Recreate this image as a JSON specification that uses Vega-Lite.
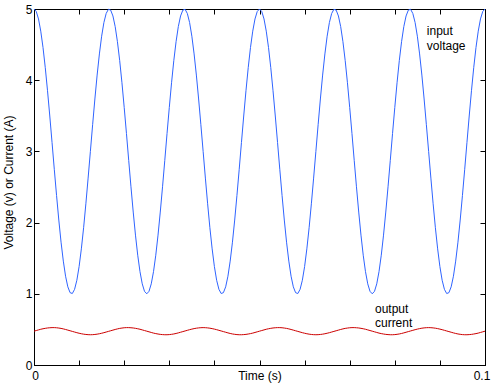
{
"$schema": "https://vega.github.io/schema/vega-lite/v6.json",
"width": 451, "height": 356,
"autosize": {"type": "none"},
"padding": {"left": 34, "top": 9, "right": 18, "bottom": 20},
"background": "white",
"config": {
  "view": {"stroke": "black", "strokeWidth": 1},
  "axis": {"labelFont": "Liberation Sans", "labelFontSize": 12, "labelColor": "black", "titleFont": "Liberation Sans", "titleFontSize": 12, "titleFontWeight": "normal", "titleColor": "black", "tickColor": "black", "domainColor": "black", "grid": false, "labelFlush": false},
  "text": {"font": "Liberation Sans", "fontSize": 12}
},
"datasets": {
"sig": [
{"t":0,"v":5,"i":0.475},{"t":0.0005,"v":4.965,"i":0.484},{"t":0.001,"v":4.860,"i":0.493},{"t":0.0015,"v":4.689,"i":0.502},{"t":0.002,"v":4.458,"i":0.509},{"t":0.0025,"v":4.176,"i":0.515},{"t":0.003,"v":3.852,"i":0.520},{"t":0.0035,"v":3.497,"i":0.523},{"t":0.004,"v":3.126,"i":0.525},{"t":0.0045,"v":2.749,"i":0.525},
{"t":0.005,"v":2.382,"i":0.523},{"t":0.0055,"v":2.036,"i":0.519},{"t":0.006,"v":1.725,"i":0.514},{"t":0.0065,"v":1.459,"i":0.507},{"t":0.007,"v":1.247,"i":0.499},{"t":0.0075,"v":1.098,"i":0.490},{"t":0.008,"v":1.016,"i":0.481},{"t":0.0085,"v":1.004,"i":0.472},{"t":0.009,"v":1.063,"i":0.463},{"t":0.0095,"v":1.190,"i":0.454},
{"t":0.01,"v":1.382,"i":0.446},{"t":0.0105,"v":1.631,"i":0.439},{"t":0.011,"v":1.928,"i":0.433},{"t":0.0115,"v":2.264,"i":0.429},{"t":0.012,"v":2.625,"i":0.426},{"t":0.0125,"v":3.000,"i":0.425},{"t":0.013,"v":3.375,"i":0.426},{"t":0.0135,"v":3.736,"i":0.429},{"t":0.014,"v":4.072,"i":0.433},{"t":0.0145,"v":4.369,"i":0.439},
{"t":0.015,"v":4.618,"i":0.446},{"t":0.0155,"v":4.810,"i":0.454},{"t":0.016,"v":4.937,"i":0.463},{"t":0.0165,"v":4.996,"i":0.472},{"t":0.017,"v":4.984,"i":0.481},{"t":0.0175,"v":4.902,"i":0.490},{"t":0.018,"v":4.753,"i":0.499},{"t":0.0185,"v":4.541,"i":0.507},{"t":0.019,"v":4.275,"i":0.514},{"t":0.0195,"v":3.964,"i":0.519},
{"t":0.02,"v":3.618,"i":0.523},{"t":0.0205,"v":3.251,"i":0.525},{"t":0.021,"v":2.874,"i":0.525},{"t":0.0215,"v":2.503,"i":0.523},{"t":0.022,"v":2.148,"i":0.520},{"t":0.0225,"v":1.824,"i":0.515},{"t":0.023,"v":1.542,"i":0.509},{"t":0.0235,"v":1.311,"i":0.502},{"t":0.024,"v":1.140,"i":0.493},{"t":0.0245,"v":1.035,"i":0.484},
{"t":0.025,"v":1.000,"i":0.475},{"t":0.0255,"v":1.035,"i":0.466},{"t":0.026,"v":1.140,"i":0.457},{"t":0.0265,"v":1.311,"i":0.448},{"t":0.027,"v":1.542,"i":0.441},{"t":0.0275,"v":1.824,"i":0.435},{"t":0.028,"v":2.148,"i":0.430},{"t":0.0285,"v":2.503,"i":0.427},{"t":0.029,"v":2.874,"i":0.425},{"t":0.0295,"v":3.251,"i":0.425},
{"t":0.03,"v":3.618,"i":0.427},{"t":0.0305,"v":3.964,"i":0.431},{"t":0.031,"v":4.275,"i":0.436},{"t":0.0315,"v":4.541,"i":0.443},{"t":0.032,"v":4.753,"i":0.451},{"t":0.0325,"v":4.902,"i":0.460},{"t":0.033,"v":4.984,"i":0.469},{"t":0.0335,"v":4.996,"i":0.478},{"t":0.034,"v":4.937,"i":0.487},{"t":0.0345,"v":4.810,"i":0.496},
{"t":0.035,"v":4.618,"i":0.504},{"t":0.0355,"v":4.369,"i":0.511},{"t":0.036,"v":4.072,"i":0.517},{"t":0.0365,"v":3.736,"i":0.521},{"t":0.037,"v":3.375,"i":0.524},{"t":0.0375,"v":3.000,"i":0.525},{"t":0.038,"v":2.625,"i":0.524},{"t":0.0385,"v":2.264,"i":0.521},{"t":0.039,"v":1.928,"i":0.517},{"t":0.0395,"v":1.631,"i":0.511},
{"t":0.04,"v":1.382,"i":0.504},{"t":0.0405,"v":1.190,"i":0.496},{"t":0.041,"v":1.063,"i":0.487},{"t":0.0415,"v":1.004,"i":0.478},{"t":0.042,"v":1.016,"i":0.469},{"t":0.0425,"v":1.098,"i":0.460},{"t":0.043,"v":1.247,"i":0.451},{"t":0.0435,"v":1.459,"i":0.443},{"t":0.044,"v":1.725,"i":0.436},{"t":0.0445,"v":2.036,"i":0.431},
{"t":0.045,"v":2.382,"i":0.427},{"t":0.0455,"v":2.749,"i":0.425},{"t":0.046,"v":3.126,"i":0.425},{"t":0.0465,"v":3.497,"i":0.427},{"t":0.047,"v":3.852,"i":0.430},{"t":0.0475,"v":4.176,"i":0.435},{"t":0.048,"v":4.458,"i":0.441},{"t":0.0485,"v":4.689,"i":0.448},{"t":0.049,"v":4.860,"i":0.457},{"t":0.0495,"v":4.965,"i":0.466},
{"t":0.05,"v":5,"i":0.475},{"t":0.0505,"v":4.965,"i":0.484},{"t":0.051,"v":4.860,"i":0.493},{"t":0.0515,"v":4.689,"i":0.502},{"t":0.052,"v":4.458,"i":0.509},{"t":0.0525,"v":4.176,"i":0.515},{"t":0.053,"v":3.852,"i":0.520},{"t":0.0535,"v":3.497,"i":0.523},{"t":0.054,"v":3.126,"i":0.525},{"t":0.0545,"v":2.749,"i":0.525},
{"t":0.055,"v":2.382,"i":0.523},{"t":0.0555,"v":2.036,"i":0.519},{"t":0.056,"v":1.725,"i":0.514},{"t":0.0565,"v":1.459,"i":0.507},{"t":0.057,"v":1.247,"i":0.499},{"t":0.0575,"v":1.098,"i":0.490},{"t":0.058,"v":1.016,"i":0.481},{"t":0.0585,"v":1.004,"i":0.472},{"t":0.059,"v":1.063,"i":0.463},{"t":0.0595,"v":1.190,"i":0.454},
{"t":0.06,"v":1.382,"i":0.446},{"t":0.0605,"v":1.631,"i":0.439},{"t":0.061,"v":1.928,"i":0.433},{"t":0.0615,"v":2.264,"i":0.429},{"t":0.062,"v":2.625,"i":0.426},{"t":0.0625,"v":3.000,"i":0.425},{"t":0.063,"v":3.375,"i":0.426},{"t":0.0635,"v":3.736,"i":0.429},{"t":0.064,"v":4.072,"i":0.433},{"t":0.0645,"v":4.369,"i":0.439},
{"t":0.065,"v":4.618,"i":0.446},{"t":0.0655,"v":4.810,"i":0.454},{"t":0.066,"v":4.937,"i":0.463},{"t":0.0665,"v":4.996,"i":0.472},{"t":0.067,"v":4.984,"i":0.481},{"t":0.0675,"v":4.902,"i":0.490},{"t":0.068,"v":4.753,"i":0.499},{"t":0.0685,"v":4.541,"i":0.507},{"t":0.069,"v":4.275,"i":0.514},{"t":0.0695,"v":3.964,"i":0.519},
{"t":0.07,"v":3.618,"i":0.523},{"t":0.0705,"v":3.251,"i":0.525},{"t":0.071,"v":2.874,"i":0.525},{"t":0.0715,"v":2.503,"i":0.523},{"t":0.072,"v":2.148,"i":0.520},{"t":0.0725,"v":1.824,"i":0.515},{"t":0.073,"v":1.542,"i":0.509},{"t":0.0735,"v":1.311,"i":0.502},{"t":0.074,"v":1.140,"i":0.493},{"t":0.0745,"v":1.035,"i":0.484},
{"t":0.075,"v":1.000,"i":0.475},{"t":0.0755,"v":1.035,"i":0.466},{"t":0.076,"v":1.140,"i":0.457},{"t":0.0765,"v":1.311,"i":0.448},{"t":0.077,"v":1.542,"i":0.441},{"t":0.0775,"v":1.824,"i":0.435},{"t":0.078,"v":2.148,"i":0.430},{"t":0.0785,"v":2.503,"i":0.427},{"t":0.079,"v":2.874,"i":0.425},{"t":0.0795,"v":3.251,"i":0.425},
{"t":0.08,"v":3.618,"i":0.427},{"t":0.0805,"v":3.964,"i":0.431},{"t":0.081,"v":4.275,"i":0.436},{"t":0.0815,"v":4.541,"i":0.443},{"t":0.082,"v":4.753,"i":0.451},{"t":0.0825,"v":4.902,"i":0.460},{"t":0.083,"v":4.984,"i":0.469},{"t":0.0835,"v":4.996,"i":0.478},{"t":0.084,"v":4.937,"i":0.487},{"t":0.0845,"v":4.810,"i":0.496},
{"t":0.085,"v":4.618,"i":0.504},{"t":0.0855,"v":4.369,"i":0.511},{"t":0.086,"v":4.072,"i":0.517},{"t":0.0865,"v":3.736,"i":0.521},{"t":0.087,"v":3.375,"i":0.524},{"t":0.0875,"v":3.000,"i":0.525},{"t":0.088,"v":2.625,"i":0.524},{"t":0.0885,"v":2.264,"i":0.521},{"t":0.089,"v":1.928,"i":0.517},{"t":0.0895,"v":1.631,"i":0.511},
{"t":0.09,"v":1.382,"i":0.504},{"t":0.0905,"v":1.190,"i":0.496},{"t":0.091,"v":1.063,"i":0.487},{"t":0.0915,"v":1.004,"i":0.478},{"t":0.092,"v":1.016,"i":0.469},{"t":0.0925,"v":1.098,"i":0.460},{"t":0.093,"v":1.247,"i":0.451},{"t":0.0935,"v":1.459,"i":0.443},{"t":0.094,"v":1.725,"i":0.436},{"t":0.0945,"v":2.036,"i":0.431},
{"t":0.095,"v":2.382,"i":0.427},{"t":0.0955,"v":2.749,"i":0.425},{"t":0.096,"v":3.126,"i":0.425},{"t":0.0965,"v":3.497,"i":0.427},{"t":0.097,"v":3.852,"i":0.430},{"t":0.0975,"v":4.176,"i":0.435},{"t":0.098,"v":4.458,"i":0.441},{"t":0.0985,"v":4.689,"i":0.448},{"t":0.099,"v":4.860,"i":0.457},{"t":0.0995,"v":4.965,"i":0.466},
{"t":0.1,"v":5,"i":0.475}
],
"notes": [
{"t":0.0871,"y":4.628,"label":"input"},
{"t":0.0871,"y":4.431,"label":"voltage"},
{"t":0.0756,"y":0.730,"label":"output"},
{"t":0.0756,"y":0.534,"label":"current"}
]
},
"resolve": {"axis": {"x": "independent", "y": "independent"}},
"layer": [
{
  "data": {"name": "sig"},
  "mark": {"type": "line", "color": "#2f64ff", "strokeWidth": 1},
  "encoding": {
    "x": {"field": "t", "type": "quantitative", "scale": {"domain": [0, 0.1], "nice": false, "zero": false},
      "axis": {"orient": "bottom", "values": [0,0.01,0.02,0.03,0.04,0.05,0.06,0.07,0.08,0.09,0.1], "labelExpr": "datum.value === 0 ? '0' : (datum.value === 0.1 ? '0.1' : '')", "tickSize": -5, "labelPadding": 19.5, "labelBaseline": "alphabetic", "labelOffset": {"condition": {"test": "datum.value > 0.05", "value": -3.5}, "value": 1}, "title": "Time (s)", "titleY": 14.5, "titleBaseline": "alphabetic"}},
    "y": {"field": "v", "type": "quantitative", "scale": {"domain": [0, 5], "nice": false},
      "axis": {"orient": "left", "values": [0,1,2,3,4,5], "tickSize": -5, "labelPadding": 7, "labelBaseline": "middle", "title": "Voltage (v) or Current (A)", "titleX": -22, "titleY": 173, "titleAngle": -90, "titleBaseline": "alphabetic"}}
  }
},
{
  "data": {"name": "sig"},
  "mark": {"type": "line", "color": "#cc0000", "strokeWidth": 1},
  "encoding": {
    "x": {"field": "t", "type": "quantitative", "scale": {"domain": [0, 0.1], "nice": false, "zero": false},
      "axis": {"orient": "top", "values": [0,0.01,0.02,0.03,0.04,0.05,0.06,0.07,0.08,0.09,0.1], "labels": false, "tickSize": -5, "title": null}},
    "y": {"field": "i", "type": "quantitative", "scale": {"domain": [0, 5], "nice": false},
      "axis": {"orient": "right", "values": [0,1,2,3,4,5], "labels": false, "tickSize": -5, "title": null}}
  }
},
{
  "data": {"name": "notes"},
  "mark": {"type": "text", "align": "left", "baseline": "alphabetic", "color": "black", "font": "Liberation Sans", "fontSize": 12},
  "encoding": {
    "x": {"field": "t", "type": "quantitative", "axis": null},
    "y": {"field": "y", "type": "quantitative", "axis": null},
    "text": {"field": "label"}
  }
}
]
}
